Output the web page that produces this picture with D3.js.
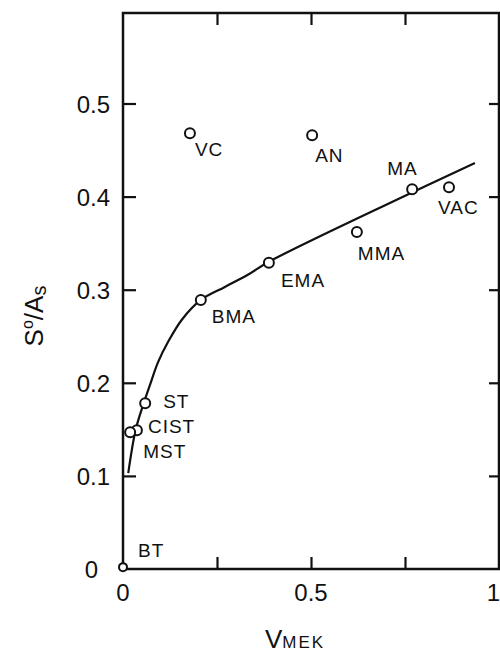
<!DOCTYPE html>
<html><head><meta charset="utf-8">
<script src="https://cdn.jsdelivr.net/npm/d3@7"></script>
<style>body{margin:0;background:#fff}svg{display:block}text{font-family:"Liberation Sans",Arial,sans-serif;fill:#111}</style>
</head><body><div id="chart"></div>
<script>
// data
const names = ["VC","AN","MA","VAC","MMA","EMA","BMA","ST","CIST","MST","BT"];
const vmek  = [0.178,0.503,0.769,0.867,0.622,0.388,0.207,0.059,0.037,0.019,0.0];
const ratio = [0.468,0.466,0.408,0.410,0.362,0.329,0.289,0.178,0.149,0.147,0.002];
const curveX = [0.014,0.034,0.056,0.072,0.093,0.120,0.157,0.207,0.271,0.332,0.388,0.735,0.936];
const curveY = [0.103,0.150,0.179,0.198,0.222,0.244,0.268,0.289,0.303,0.316,0.330,0.398,0.436];
const xTickLabels = [0,0.5,1];
const xTicksAll = [0.25,0.5,0.75];
const yTickLabels = [0,0.1,0.2,0.3,0.4,0.5];

// label placement (px offsets from point)
const labelOff = {VC:[5,23],AN:[3,27],MA:[-25,-14],VAC:[-11,27],MMA:[1,28],EMA:[12,24],
  BMA:[11,23],ST:[18,5],CIST:[11,3],MST:[13,26],BT:[15,-10]};

const W=500,H=654;
const L=123,R=499,T=13,B=569;
const x=d3.scaleLinear().domain([0,1]).range([L,R]);
const y=d3.scaleLinear().domain([0,0.6]).range([B,B-0.6*931]);

const svg=d3.select("#chart").append("svg").attr("width",W).attr("height",H);

// frame
svg.append("rect").attr("x",L).attr("y",T).attr("width",R-L).attr("height",B-T)
  .attr("fill","none").attr("stroke","#111").attr("stroke-width",2.5);

// ticks via axes (inward)
const gB=svg.append("g").attr("transform",`translate(0,${B})`)
  .call(d3.axisBottom(x).tickValues(xTicksAll).tickSize(-12).tickFormat(""));
const gT=svg.append("g").attr("transform",`translate(0,${T})`)
  .call(d3.axisTop(x).tickValues(xTicksAll).tickSize(-12).tickFormat(""));
const gL=svg.append("g").attr("transform",`translate(${L},0)`)
  .call(d3.axisLeft(y).tickValues([0.1,0.2,0.3,0.4,0.5]).tickSize(-13).tickFormat(""));
const gR=svg.append("g").attr("transform",`translate(${R},0)`)
  .call(d3.axisRight(y).tickValues([0.1,0.2,0.3,0.4,0.5]).tickSize(-10).tickFormat(""));
[gB,gT,gL,gR].forEach(g=>{g.select(".domain").remove();
  g.selectAll("line").attr("stroke","#111").attr("stroke-width",2.2);});

// tick labels
svg.selectAll(".yl").data(yTickLabels).join("text")
  .attr("x",d=>d===0?98:110).attr("y",d=>y(d)+9)
  .attr("text-anchor","end").attr("font-size",24)
  .text(d=>d===0?"0":d3.format(".1f")(d));
svg.selectAll(".xl").data(xTickLabels).join("text")
  .attr("x",d=>d===1?500:x(d)).attr("y",601)
  .attr("text-anchor",d=>d===1?"end":"middle").attr("font-size",24)
  .text(d=>d===0?"0":(d===1?"1":d3.format(".1f")(d)));

// axis titles
const xt=svg.append("text").attr("x",265).attr("y",648).attr("font-size",26);
xt.append("tspan").text("V");
xt.append("tspan").attr("font-size",17).attr("letter-spacing",2).text("MEK");

const yt=svg.append("text").attr("transform","translate(43,316) rotate(-90)")
  .attr("text-anchor","middle").attr("font-size",26);
yt.append("tspan").text("S");
yt.append("tspan").attr("font-size",16).attr("dy",-10).text("o");
yt.append("tspan").attr("dy",10).text("/A");
yt.append("tspan").attr("font-size",20).attr("dy",3).text("s");

// curve
const pts=curveX.map((v,i)=>[v,curveY[i]]);
svg.append("path").datum(pts)
  .attr("d",d3.line().x(d=>x(d[0])).y(d=>y(d[1])).curve(d3.curveCatmullRom.alpha(0.5)))
  .attr("fill","none").attr("stroke","#111").attr("stroke-width",2.2);

// points
const data=names.map((n,i)=>({n,x:vmek[i],y:ratio[i]}));
svg.selectAll(".pt").data(data).join("circle")
  .attr("cx",d=>x(d.x)).attr("cy",d=>y(d.y)).attr("r",d=>d.n==="BT"?4:5)
  .attr("fill","#fff").attr("stroke","#111").attr("stroke-width",2);
svg.selectAll(".lab").data(data).join("text")
  .attr("x",d=>x(d.x)+labelOff[d.n][0]).attr("y",d=>y(d.y)+labelOff[d.n][1])
  .attr("font-size",19).attr("letter-spacing",1).text(d=>d.n);
</script></body></html>
